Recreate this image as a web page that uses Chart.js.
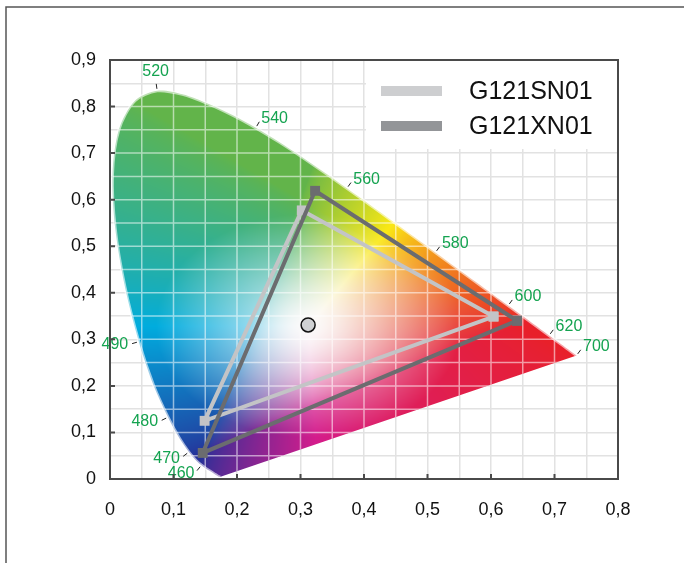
<!DOCTYPE html>
<html>
<head>
<meta charset="utf-8">
<script src="https://cdn.jsdelivr.net/npm/chart.js@4.4.1/dist/chart.umd.min.js"></script>
<style>
  html, body { margin: 0; padding: 0; background: #fff; }
  #wrap { width: 684px; height: 563px; }
</style>
</head>
<body>
<div id="wrap"><canvas id="cie" width="684" height="563"></canvas></div>
<script>
// spectral locus (CIE 1931), wavelength in nm
const locusNm = [380, 400, 420, 430, 440, 450, 455, 460, 465, 470, 475, 480, 485, 490, 495, 500, 505, 510, 515, 520,
  525, 530, 535, 540, 545, 550, 555, 560, 565, 570, 575, 580, 585, 590, 595, 600, 610, 620, 630, 640, 650, 700];
const locusX = [0.1741, 0.1733, 0.1714, 0.1689, 0.1644, 0.1566, 0.1510, 0.1440, 0.1355, 0.1241, 0.1096, 0.0913, 0.0687, 0.0454, 0.0235, 0.0082, 0.0039, 0.0139, 0.0389, 0.0743,
  0.1142, 0.1547, 0.1929, 0.2296, 0.2658, 0.3016, 0.3373, 0.3731, 0.4087, 0.4441, 0.4788, 0.5125, 0.5448, 0.5752, 0.6029, 0.6270, 0.6658, 0.6915, 0.7079, 0.7190, 0.7260, 0.7347];
const locusY = [0.0050, 0.0048, 0.0051, 0.0069, 0.0109, 0.0177, 0.0227, 0.0297, 0.0399, 0.0578, 0.0868, 0.1327, 0.2007, 0.2950, 0.4127, 0.5384, 0.6548, 0.7502, 0.8120, 0.8338,
  0.8262, 0.8059, 0.7816, 0.7543, 0.7243, 0.6923, 0.6589, 0.6245, 0.5896, 0.5547, 0.5202, 0.4866, 0.4544, 0.4242, 0.3965, 0.3725, 0.3340, 0.3083, 0.2920, 0.2809, 0.2740, 0.2653];
const labelNm = [460, 470, 480, 490, 520, 540, 560, 580, 600, 620, 700];

// panel gamuts (R, G, B, back to R)
const seriesNames = ['G121SN01', 'G121XN01'];
const snX = [0.604, 0.302, 0.149, 0.604];
const snY = [0.349, 0.577, 0.125, 0.349];
const xnX = [0.641, 0.323, 0.146, 0.641];
const xnY = [0.340, 0.619, 0.056, 0.340];
const whiteX = [0.312];
const whiteY = [0.331];

const xTickLabels = ['0', '0,1', '0,2', '0,3', '0,4', '0,5', '0,6', '0,7', '0,8'];
const yTickLabels = ['0', '0,1', '0,2', '0,3', '0,4', '0,5', '0,6', '0,7', '0,8', '0,9'];

const FONT = 'Liberation Sans, Arial, sans-serif';
const legendColors = ['#cdced0', '#939598'];

// printed-look colours for the corners of the RGB cube
const cube = {
  k: [20, 20, 40], r: [232, 32, 42], g: [98, 180, 74], b: [38, 48, 152],
  y: [250, 232, 20], c: [0, 172, 222], m: [212, 28, 140], w: [252, 250, 250],
};

const pts = (xs, ys) => xs.map((x, i) => ({ x, y: ys[i] }));

function tickLabel(v, labels) {
  const k = Math.round(v * 20);
  return k % 2 === 0 ? labels[k / 2] : '';
}

function cieRgb(x, y) {
  const yy = Math.max(y, 0.002);
  const X = x / yy, Z = (1 - x - yy) / yy;
  let c = [3.2406 * X - 1.5372 - 0.4986 * Z, -0.9689 * X + 1.8758 + 0.0415 * Z, 0.0557 * X - 0.2040 + 1.0570 * Z];
  c = c.map(v => Math.max(v, 0));
  const m = Math.max(c[0], c[1], c[2]) || 1;
  const [r, g, b] = c.map(v => Math.pow(v / m, 1 / 1.5));
  const out = [0, 0, 0];
  const add = (col, wgt) => { for (let i = 0; i < 3; i++) out[i] += col[i] * wgt; };
  add(cube.k, (1 - r) * (1 - g) * (1 - b));
  add(cube.r, r * (1 - g) * (1 - b));
  add(cube.g, (1 - r) * g * (1 - b));
  add(cube.b, (1 - r) * (1 - g) * b);
  add(cube.y, r * g * (1 - b));
  add(cube.c, (1 - r) * g * b);
  add(cube.m, r * (1 - g) * b);
  add(cube.w, r * g * b);
  // pale towards the white point
  const d = Math.hypot(x - 0.3127, y - 0.329);
  const s = Math.pow(Math.min(1, d / 0.24), 0.9);
  return out.map((v, i) => cube.w[i] * (1 - s) + v * s);
}

let patternCache = null;
function locusPattern(chart) {
  if (patternCache) return patternCache;
  const a = chart.chartArea;
  if (!a) return 'rgba(0,0,0,0)';
  const sx = chart.scales.x, sy = chart.scales.y;
  const off = document.createElement('canvas');
  off.width = chart.width; off.height = chart.height;
  const octx = off.getContext('2d');
  const img = octx.createImageData(off.width, off.height);
  for (let py = Math.floor(a.top); py < Math.ceil(a.bottom); py++) {
    const yv = sy.getValueForPixel(py + 0.5);
    for (let px = Math.floor(a.left); px < Math.ceil(a.right); px++) {
      const xv = sx.getValueForPixel(px + 0.5);
      const c = cieRgb(xv, yv);
      const o = (py * off.width + px) * 4;
      img.data[o] = c[0]; img.data[o + 1] = c[1]; img.data[o + 2] = c[2]; img.data[o + 3] = 255;
    }
  }
  octx.putImageData(img, 0, 0);
  patternCache = chart.ctx.createPattern(off, 'no-repeat');
  return patternCache;
}

function locusPath(ctx, sx, sy) {
  ctx.beginPath();
  locusX.forEach((x, i) => {
    const px = sx.getPixelForValue(x), py = sy.getPixelForValue(locusY[i]);
    if (i === 0) ctx.moveTo(px, py); else ctx.lineTo(px, py);
  });
  ctx.closePath();
}

const cieExtras = {
  id: 'cieExtras',
  afterDatasetDraw(chart, args) {
    if (args.index !== 0) return;
    const { ctx, chartArea: a, scales: { x: sx, y: sy } } = chart;
    ctx.save();
    locusPath(ctx, sx, sy);
    ctx.clip();
    ctx.strokeStyle = 'rgba(255,255,255,0.55)';
    ctx.lineWidth = 1.5;
    ctx.beginPath();
    for (let k = 1; k < 16; k++) {
      const px = sx.getPixelForValue(k * 0.05);
      ctx.moveTo(px, a.top); ctx.lineTo(px, a.bottom);
    }
    for (let k = 1; k < 18; k++) {
      const py = sy.getPixelForValue(k * 0.05);
      ctx.moveTo(a.left, py); ctx.lineTo(a.right, py);
    }
    ctx.stroke();
    ctx.restore();
  },
  afterDatasetsDraw(chart) {
    const { ctx, chartArea: a, scales: { x: sx, y: sy } } = chart;
    ctx.save();
    // wavelength labels
    const cx = sx.getPixelForValue(0.33), cy = sy.getPixelForValue(0.33);
    ctx.font = '16px ' + FONT;
    ctx.fillStyle = '#14a350';
    ctx.strokeStyle = '#222';
    ctx.lineWidth = 1;
    labelNm.forEach(nm => {
      const i = locusNm.indexOf(nm);
      const i0 = Math.max(i - 1, 0), i1 = Math.min(i + 1, locusNm.length - 1);
      const px = sx.getPixelForValue(locusX[i]), py = sy.getPixelForValue(locusY[i]);
      const tx = sx.getPixelForValue(locusX[i1]) - sx.getPixelForValue(locusX[i0]);
      const ty = sy.getPixelForValue(locusY[i1]) - sy.getPixelForValue(locusY[i0]);
      const len = Math.hypot(tx, ty);
      let nx = -ty / len, ny = tx / len;
      if (nx * (px - cx) + ny * (py - cy) < 0) { nx = -nx; ny = -ny; }
      ctx.beginPath();
      ctx.moveTo(px + nx * 2, py + ny * 2);
      ctx.lineTo(px + nx * 7, py + ny * 7);
      ctx.stroke();
      ctx.textAlign = nx > 0.3 ? 'left' : (nx < -0.3 ? 'right' : 'center');
      ctx.textBaseline = ny < -0.9 ? 'bottom' : (ny > 0.9 ? 'top' : 'middle');
      ctx.fillText(String(nm), px + nx * 11, py + ny * 11);
    });
    // legend
    ctx.fillStyle = '#fff';
    ctx.fillRect(a.right - 252, a.top + 1, 251, 88);
    ctx.font = '25px ' + FONT;
    ctx.textAlign = 'left';
    ctx.textBaseline = 'middle';
    chart.data.datasets.slice(1, 3).forEach((ds, k) => {
      const yc = a.top + 31 + k * 35;
      ctx.fillStyle = legendColors[k];
      ctx.fillRect(a.left + 271, yc - 5, 61, 10);
      ctx.fillStyle = '#111';
      ctx.fillText(ds.label, a.left + 359, yc + 1);
    });
    ctx.restore();
  },
  afterDraw(chart) {
    const { ctx, chartArea: a, scales: { x: sx, y: sy } } = chart;
    ctx.save();
    ctx.strokeStyle = '#4a4a4a';
    ctx.lineWidth = 2;
    ctx.strokeRect(a.left, a.top, a.right - a.left, a.bottom - a.top);
    ctx.beginPath();
    xTickLabels.forEach((_, k) => {
      const px = sx.getPixelForValue(k / 10);
      ctx.moveTo(px, a.bottom); ctx.lineTo(px, a.bottom - 5);
    });
    yTickLabels.forEach((_, k) => {
      const py = sy.getPixelForValue(k / 10);
      ctx.moveTo(a.left, py); ctx.lineTo(a.left + 5, py);
    });
    ctx.stroke();
    // outer frame
    ctx.strokeStyle = '#555';
    ctx.lineWidth = 1.5;
    ctx.beginPath();
    ctx.moveTo(6, chart.height); ctx.lineTo(6, 7); ctx.lineTo(chart.width, 7);
    ctx.stroke();
    ctx.restore();
  }
};

new Chart(document.getElementById('cie'), {
  type: 'scatter',
  data: {
    datasets: [
      {
        label: 'locus',
        data: pts(locusX, locusY),
        showLine: true,
        tension: 0.3,
        fill: 'shape',
        backgroundColor: (c) => locusPattern(c.chart),
        borderColor: 'rgba(255,255,255,0.6)',
        borderWidth: 3,
        pointRadius: 0,
        order: 3,
      },
      {
        label: seriesNames[0],
        data: pts(snX, snY),
        showLine: true,
        borderColor: '#c3c4c6',
        borderWidth: 4,
        pointStyle: 'rect',
        pointRadius: 7,
        pointBackgroundColor: '#c3c4c6',
        pointBorderWidth: 0,
        order: 2,
      },
      {
        label: seriesNames[1],
        data: pts(xnX, xnY),
        showLine: true,
        borderColor: '#6b6c6f',
        borderWidth: 4,
        pointStyle: 'rect',
        pointRadius: 7,
        pointBackgroundColor: '#6b6c6f',
        pointBorderWidth: 0,
        order: 1,
      },
      {
        label: 'white point',
        data: pts(whiteX, whiteY),
        pointRadius: 7,
        pointBackgroundColor: '#d0d1d3',
        pointBorderColor: '#111',
        pointBorderWidth: 1.5,
        order: 0,
      },
    ],
  },
  options: {
    responsive: false,
    animation: false,
    layout: { padding: { top: 60, right: 66, bottom: 0, left: 0 } },
    plugins: {
      legend: { display: false },
      tooltip: { enabled: false },
    },
    scales: {
      x: {
        type: 'linear',
        min: 0,
        max: 0.8,
        afterFit: (s) => { s.height = 84; },
        border: { display: false },
        grid: { color: '#e2e2e2', lineWidth: 1.5, drawTicks: false },
        ticks: {
          stepSize: 0.05,
          autoSkip: false,
          maxRotation: 0,
          padding: 20,
          color: '#111',
          font: { family: FONT, size: 18 },
          callback: (v) => tickLabel(v, xTickLabels),
        },
      },
      y: {
        type: 'linear',
        min: 0,
        max: 0.9,
        afterFit: (s) => { s.width = 110; },
        border: { display: false },
        grid: { color: '#e2e2e2', lineWidth: 1.5, drawTicks: false },
        ticks: {
          stepSize: 0.05,
          autoSkip: false,
          padding: 14,
          color: '#111',
          font: { family: FONT, size: 18 },
          callback: (v) => tickLabel(v, yTickLabels),
        },
      },
    },
  },
  plugins: [cieExtras],
});
</script>
</body>
</html>
